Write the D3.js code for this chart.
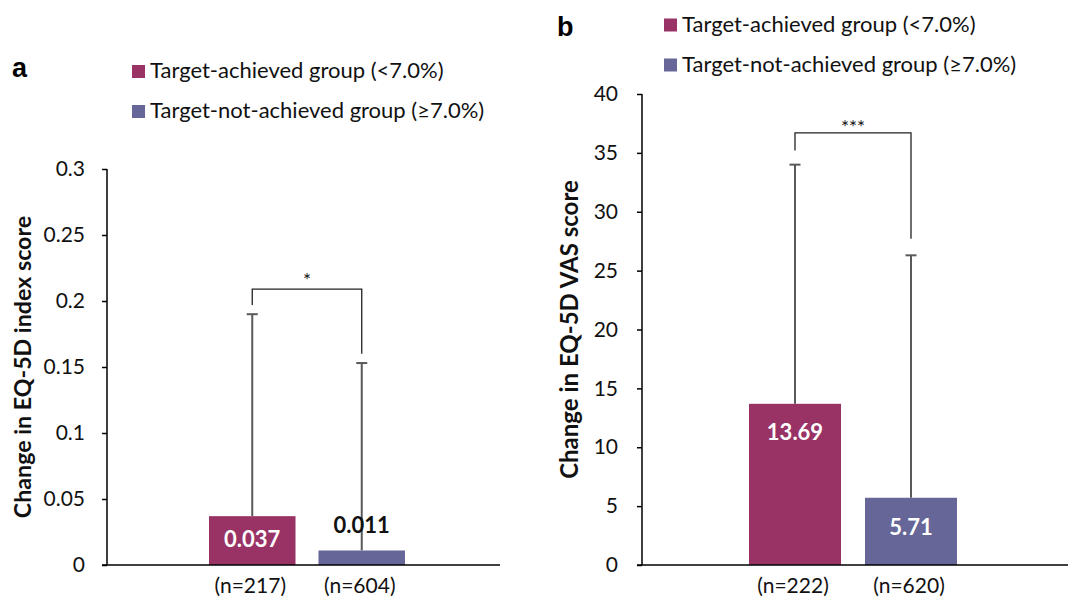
<!DOCTYPE html>
<html><head><meta charset="utf-8">
<script src="https://cdn.jsdelivr.net/npm/d3@7"></script>
<style>body{margin:0;background:#fff}svg{display:block}</style>
</head><body>
<script>
// ---- data ----
const groups = ["Target-achieved group (<7.0%)", "Target-not-achieved group (\u22657.0%)"];
const groupColors = ["#993366", "#666699"];

const indexMeans = [0.037, 0.011];
const indexUpper = [0.190, 0.153];
const indexN = ["(n=217)", "(n=604)"];
const indexTicks = [0, 0.05, 0.1, 0.15, 0.2, 0.25, 0.3];
const indexTickLabels = ["0", "0.05", "0.1", "0.15", "0.2", "0.25", "0.3"];
const indexBracket = [0.197, 0.209, 0.160]; // left leg end, top, right leg end
const indexSig = "*";

const vasMeans = [13.69, 5.71];
const vasUpper = [34.0, 26.3];
const vasN = ["(n=222)", "(n=620)"];
const vasTicks = [0, 5, 10, 15, 20, 25, 30, 35, 40];
const vasTickLabels = ["0", "5", "10", "15", "20", "25", "30", "35", "40"];
const vasBracket = [35.2, 36.7, 27.7];
const vasSig = "***";

const W = 1068, H = 599;
const FONT = "Lato, 'Open Sans', sans-serif";
const svg = d3.select("body").append("svg").attr("width", W).attr("height", H);

function panel(o) {
  const g = svg.append("g");
  const y = d3.scaleLinear().domain([o.ticks[0], o.ticks[o.ticks.length - 1]]).range([o.y0, o.y1]);
  const x = d3.scaleBand().domain(groups).range(o.barRange).paddingInner(o.pad).paddingOuter(0);
  const cx = d => x(d) + x.bandwidth() / 2;

  // panel letter
  g.append("text").attr("x", o.letter[0]).attr("y", o.letter[1])
    .attr("font-family", "'Liberation Sans', Arial, sans-serif").attr("font-weight", "bold")
    .attr("font-size", 27).text(o.letterText);

  // legend
  const lg = g.append("g");
  groups.forEach((gr, i) => {
    lg.append("rect").attr("x", o.legend[0]).attr("y", o.legend[1] + i * 40)
      .attr("width", 13).attr("height", 13).attr("fill", groupColors[i]);
    lg.append("text").attr("x", o.legend[0] + 18).attr("y", o.legend[1] + i * 40 + 13)
      .attr("font-family", FONT).attr("font-size", 22).attr("fill", "#111").text(gr);
  });

  // y axis
  const ax = g.append("g").attr("transform", `translate(${o.axisX},0)`)
    .call(d3.axisLeft(y).tickValues(o.ticks).tickSize(5).tickPadding(o.tickPad)
      .tickFormat((d, i) => o.tickLabels[i]));
  ax.select(".domain").attr("stroke", "#000").attr("stroke-width", 1.5).attr("d", `M0,${o.y0}V${o.y1}`);
  ax.selectAll(".tick line").attr("stroke", "#000").attr("stroke-width", 1.5);
  ax.selectAll(".tick text").attr("font-family", FONT).attr("font-size", 21).attr("fill", "#111");

  // y title
  g.append("text").attr("transform", `translate(${o.titleX},${(o.y0 + o.y1) / 2}) rotate(-90)`)
    .attr("text-anchor", "middle").attr("font-family", FONT).attr("font-weight", "bold")
    .attr("font-size", o.titleSize).attr("fill", "#111").text(o.title);

  // error bars (behind bars)
  const eb = g.append("g").attr("stroke", "#595959").attr("stroke-width", 2);
  groups.forEach((gr, i) => {
    eb.append("line").attr("x1", cx(gr)).attr("x2", cx(gr)).attr("y1", y(o.means[i])).attr("y2", y(o.upper[i]));
    eb.append("line").attr("x1", cx(gr) - 5.5).attr("x2", cx(gr) + 5.5).attr("y1", y(o.upper[i])).attr("y2", y(o.upper[i]));
  });

  // bars
  g.selectAll(null).data(groups).enter().append("rect")
    .attr("x", d => x(d)).attr("width", x.bandwidth())
    .attr("y", (d, i) => y(o.means[i])).attr("height", (d, i) => y(0) - y(o.means[i]))
    .attr("fill", (d, i) => groupColors[i]);

  // x axis baseline
  g.append("line").attr("x1", o.axisX - 5).attr("x2", o.xEnd).attr("y1", y(0)).attr("y2", y(0))
    .attr("stroke", "#000").attr("stroke-width", 1.5);

  // value labels
  groups.forEach((gr, i) => {
    const inside = o.labelInside[i];
    g.append("text").attr("x", cx(gr))
      .attr("y", inside ? y(o.means[i]) + o.labelOffset[i] : y(o.means[i]) - o.labelOffset[i])
      .attr("text-anchor", "middle").attr("font-family", FONT).attr("font-weight", "bold")
      .attr("font-size", 22).attr("fill", inside ? "#fff" : "#111")
      .text(o.valueFmt(o.means[i]));
  });

  // n labels
  groups.forEach((gr, i) => {
    g.append("text").attr("x", cx(gr) - 2).attr("y", y(0) + 28)
      .attr("text-anchor", "middle").attr("font-family", FONT).attr("font-size", 21)
      .attr("fill", "#111").text(o.n[i]);
  });

  // significance bracket
  const b = o.bracket;
  g.append("path").attr("fill", "none").attr("stroke", "#222").attr("stroke-width", 1.3)
    .attr("d", `M${cx(groups[0])},${y(b[0])}V${y(b[1])}H${cx(groups[1])}V${y(b[2])}`);
  g.append("text").attr("x", (cx(groups[0]) + cx(groups[1])) / 2).attr("y", y(b[1]) + o.sigDy)
    .attr("text-anchor", "middle").attr("font-family", FONT).attr("font-size", 19)
    .attr("fill", "#111").text(o.sig);
}

panel({
  letterText: "a", letter: [12, 77], legend: [132, 65],
  ticks: indexTicks, tickLabels: indexTickLabels, tickPad: 17,
  means: indexMeans, upper: indexUpper, n: indexN, bracket: indexBracket, sig: indexSig, sigDy: -2,
  y0: 565, y1: 169, axisX: 107, xEnd: 500, barRange: [209, 405], pad: 0.21,
  title: "Change in EQ-5D index score", titleX: 31, titleSize: 23.2,
  labelInside: [true, false], labelOffset: [31, 17], valueFmt: d3.format(".3f")
});

panel({
  letterText: "b", letter: [557, 36], legend: [664, 18.5],
  ticks: vasTicks, tickLabels: vasTickLabels, tickPad: 19,
  means: vasMeans, upper: vasUpper, n: vasN, bracket: vasBracket, sig: vasSig, sigDy: 1,
  y0: 565, y1: 94, axisX: 642, xEnd: 1068, barRange: [749, 957], pad: 0.207,
  title: "Change in EQ-5D VAS score", titleX: 578, titleSize: 24,
  labelInside: [true, true], labelOffset: [36, 37], valueFmt: d3.format(".2f")
});
</script>
</body></html>
